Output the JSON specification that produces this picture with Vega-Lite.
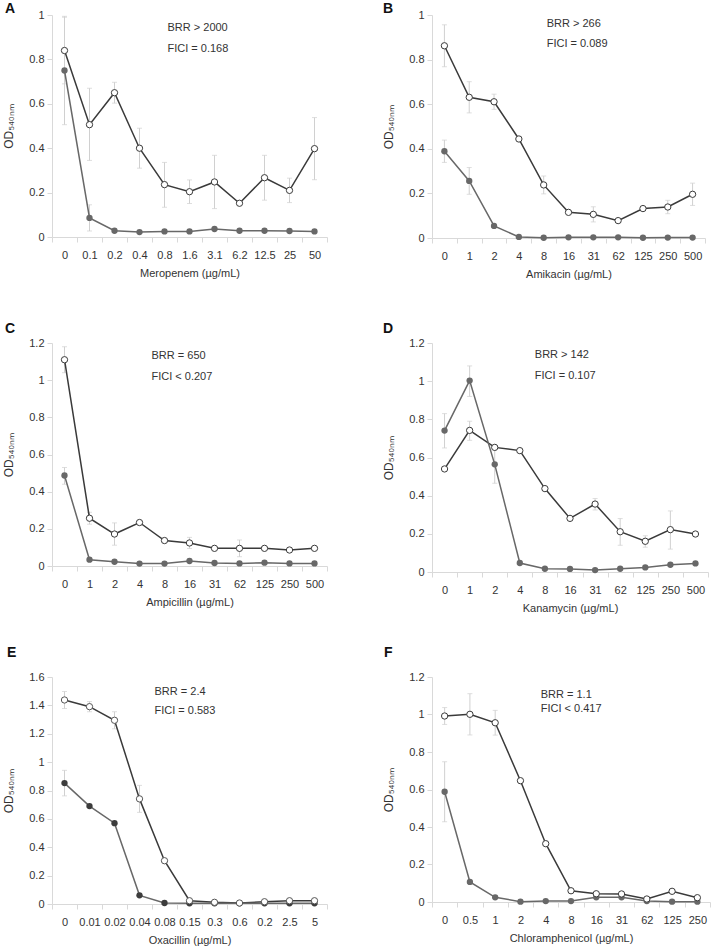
{
  "$schema": "https://vega.github.io/schema/vega-lite/v6.json",
  "padding": {"left": 2, "top": 1, "right": 2, "bottom": 1},
  "background": "white",
  "columns": 2,
  "bounds": "flush",
  "spacing": {"row": 105, "column": 105},
  "config": {
    "view": {"stroke": null},
    "font": "Liberation Sans",
    "axis": {"grid": false, "labelFont": "Liberation Sans", "labelFontSize": 11, "labelColor": "#333333", "titleFont": "Liberation Sans", "titleFontSize": 11, "titleColor": "#333333", "titleFontWeight": "normal", "domainColor": "#d9d9d9", "tickColor": "#d9d9d9", "tickSize": 5},
    "axisX": {"labelAngle": 0, "labelPadding": 7, "titlePadding": 7, "tickBand": "extent", "labelOverlap": false},
    "axisY": {"labelPadding": 3, "titlePadding": 13, "titleFontSize": 12, "format": ".1~f", "labelOverlap": false},
    "title": {"font": "Liberation Sans", "fontSize": 14, "fontWeight": "bold", "color": "#111111", "anchor": "start", "frame": "group", "baseline": "alphabetic", "offset": 0},
    "text": {"font": "Liberation Sans", "fontSize": 11, "color": "#333333", "align": "left", "baseline": "alphabetic"},
    "line": {"strokeWidth": 1.5}
  },
  "datasets": {
    "od": [
      {"p":"A","x":"0","s":"open","v":0.84,"lo":0.69,"hi":0.99},
      {"p":"A","x":"0.1","s":"open","v":0.506,"lo":0.345,"hi":0.67},
      {"p":"A","x":"0.2","s":"open","v":0.65,"lo":0.603,"hi":0.697},
      {"p":"A","x":"0.4","s":"open","v":0.40,"lo":0.31,"hi":0.49},
      {"p":"A","x":"0.8","s":"open","v":0.236,"lo":0.134,"hi":0.336},
      {"p":"A","x":"1.6","s":"open","v":0.204,"lo":0.151,"hi":0.257},
      {"p":"A","x":"3.1","s":"open","v":0.248,"lo":0.128,"hi":0.368},
      {"p":"A","x":"6.2","s":"open","v":0.152},
      {"p":"A","x":"12.5","s":"open","v":0.267,"lo":0.166,"hi":0.368},
      {"p":"A","x":"25","s":"open","v":0.21,"lo":0.155,"hi":0.265},
      {"p":"A","x":"50","s":"open","v":0.398,"lo":0.258,"hi":0.538},
      {"p":"A","x":"0","s":"filled","v":0.75,"lo":0.506,"hi":0.994},
      {"p":"A","x":"0.1","s":"filled","v":0.086,"lo":0.027,"hi":0.145},
      {"p":"A","x":"0.2","s":"filled","v":0.028},
      {"p":"A","x":"0.4","s":"filled","v":0.022},
      {"p":"A","x":"0.8","s":"filled","v":0.025},
      {"p":"A","x":"1.6","s":"filled","v":0.025},
      {"p":"A","x":"3.1","s":"filled","v":0.036},
      {"p":"A","x":"6.2","s":"filled","v":0.028},
      {"p":"A","x":"12.5","s":"filled","v":0.028},
      {"p":"A","x":"25","s":"filled","v":0.027},
      {"p":"A","x":"50","s":"filled","v":0.025},

      {"p":"B","x":"0","s":"open","v":0.862,"lo":0.768,"hi":0.956},
      {"p":"B","x":"1","s":"open","v":0.631,"lo":0.561,"hi":0.701},
      {"p":"B","x":"2","s":"open","v":0.611,"lo":0.577,"hi":0.645},
      {"p":"B","x":"4","s":"open","v":0.444},
      {"p":"B","x":"8","s":"open","v":0.238,"lo":0.198,"hi":0.278},
      {"p":"B","x":"16","s":"open","v":0.115},
      {"p":"B","x":"31","s":"open","v":0.106,"lo":0.072,"hi":0.14},
      {"p":"B","x":"62","s":"open","v":0.078},
      {"p":"B","x":"125","s":"open","v":0.132},
      {"p":"B","x":"250","s":"open","v":0.139,"lo":0.109,"hi":0.169},
      {"p":"B","x":"500","s":"open","v":0.196,"lo":0.146,"hi":0.246},
      {"p":"B","x":"0","s":"filled","v":0.389,"lo":0.339,"hi":0.439},
      {"p":"B","x":"1","s":"filled","v":0.256,"lo":0.196,"hi":0.316},
      {"p":"B","x":"2","s":"filled","v":0.054},
      {"p":"B","x":"4","s":"filled","v":0.005},
      {"p":"B","x":"8","s":"filled","v":0.001},
      {"p":"B","x":"16","s":"filled","v":0.003},
      {"p":"B","x":"31","s":"filled","v":0.003},
      {"p":"B","x":"62","s":"filled","v":0.003},
      {"p":"B","x":"125","s":"filled","v":0.001},
      {"p":"B","x":"250","s":"filled","v":0.002},
      {"p":"B","x":"500","s":"filled","v":0.002},

      {"p":"C","x":"0","s":"open","v":1.11,"lo":1.04,"hi":1.18},
      {"p":"C","x":"1","s":"open","v":0.257,"lo":0.225,"hi":0.289},
      {"p":"C","x":"2","s":"open","v":0.172,"lo":0.112,"hi":0.232},
      {"p":"C","x":"4","s":"open","v":0.234},
      {"p":"C","x":"8","s":"open","v":0.137},
      {"p":"C","x":"16","s":"open","v":0.124,"lo":0.094,"hi":0.154},
      {"p":"C","x":"31","s":"open","v":0.095},
      {"p":"C","x":"62","s":"open","v":0.095,"lo":0.05,"hi":0.14},
      {"p":"C","x":"125","s":"open","v":0.095},
      {"p":"C","x":"250","s":"open","v":0.086},
      {"p":"C","x":"500","s":"open","v":0.095},
      {"p":"C","x":"0","s":"filled","v":0.487,"lo":0.44,"hi":0.53},
      {"p":"C","x":"1","s":"filled","v":0.034},
      {"p":"C","x":"2","s":"filled","v":0.023},
      {"p":"C","x":"4","s":"filled","v":0.013},
      {"p":"C","x":"8","s":"filled","v":0.013},
      {"p":"C","x":"16","s":"filled","v":0.027},
      {"p":"C","x":"31","s":"filled","v":0.016},
      {"p":"C","x":"62","s":"filled","v":0.014},
      {"p":"C","x":"125","s":"filled","v":0.018},
      {"p":"C","x":"250","s":"filled","v":0.014},
      {"p":"C","x":"500","s":"filled","v":0.014},

      {"p":"D","x":"0","s":"open","v":0.54},
      {"p":"D","x":"1","s":"open","v":0.742,"lo":0.69,"hi":0.79},
      {"p":"D","x":"2","s":"open","v":0.653},
      {"p":"D","x":"4","s":"open","v":0.636},
      {"p":"D","x":"8","s":"open","v":0.437},
      {"p":"D","x":"16","s":"open","v":0.281},
      {"p":"D","x":"31","s":"open","v":0.356,"lo":0.325,"hi":0.385},
      {"p":"D","x":"62","s":"open","v":0.211,"lo":0.14,"hi":0.28},
      {"p":"D","x":"125","s":"open","v":0.161,"lo":0.13,"hi":0.19},
      {"p":"D","x":"250","s":"open","v":0.222,"lo":0.12,"hi":0.32},
      {"p":"D","x":"500","s":"open","v":0.199},
      {"p":"D","x":"0","s":"filled","v":0.741,"lo":0.65,"hi":0.83},
      {"p":"D","x":"1","s":"filled","v":1.003,"lo":0.92,"hi":1.08},
      {"p":"D","x":"2","s":"filled","v":0.564,"lo":0.465,"hi":0.66},
      {"p":"D","x":"4","s":"filled","v":0.047},
      {"p":"D","x":"8","s":"filled","v":0.017},
      {"p":"D","x":"16","s":"filled","v":0.016},
      {"p":"D","x":"31","s":"filled","v":0.01},
      {"p":"D","x":"62","s":"filled","v":0.017},
      {"p":"D","x":"125","s":"filled","v":0.024},
      {"p":"D","x":"250","s":"filled","v":0.038},
      {"p":"D","x":"500","s":"filled","v":0.045},

      {"p":"E","x":"0","s":"open","v":1.438,"lo":1.378,"hi":1.498},
      {"p":"E","x":"0.01","s":"open","v":1.391,"lo":1.355,"hi":1.427},
      {"p":"E","x":"0.02","s":"open","v":1.295,"lo":1.235,"hi":1.355},
      {"p":"E","x":"0.04","s":"open","v":0.741,"lo":0.646,"hi":0.836},
      {"p":"E","x":"0.08","s":"open","v":0.305},
      {"p":"E","x":"0.15","s":"open","v":0.023},
      {"p":"E","x":"0.3","s":"open","v":0.012},
      {"p":"E","x":"0.6","s":"open","v":0.007},
      {"p":"E","x":"0.2","s":"open","v":0.016},
      {"p":"E","x":"2.5","s":"open","v":0.023},
      {"p":"E","x":"5","s":"open","v":0.023},
      {"p":"E","x":"0","s":"filled","v":0.852,"lo":0.762,"hi":0.942},
      {"p":"E","x":"0.01","s":"filled","v":0.69},
      {"p":"E","x":"0.02","s":"filled","v":0.57},
      {"p":"E","x":"0.04","s":"filled","v":0.061},
      {"p":"E","x":"0.08","s":"filled","v":0.007},
      {"p":"E","x":"0.15","s":"filled","v":0.005},
      {"p":"E","x":"0.3","s":"filled","v":0.005},
      {"p":"E","x":"0.6","s":"filled","v":0.005},
      {"p":"E","x":"0.2","s":"filled","v":0.005},
      {"p":"E","x":"2.5","s":"filled","v":0.005},
      {"p":"E","x":"5","s":"filled","v":0.005},

      {"p":"F","x":"0","s":"open","v":0.992,"lo":0.947,"hi":1.037},
      {"p":"F","x":"0.5","s":"open","v":1.001,"lo":0.891,"hi":1.111},
      {"p":"F","x":"1","s":"open","v":0.956,"lo":0.89,"hi":1.022},
      {"p":"F","x":"2","s":"open","v":0.647},
      {"p":"F","x":"4","s":"open","v":0.311},
      {"p":"F","x":"8","s":"open","v":0.06},
      {"p":"F","x":"16","s":"open","v":0.044},
      {"p":"F","x":"31","s":"open","v":0.043},
      {"p":"F","x":"62","s":"open","v":0.016},
      {"p":"F","x":"125","s":"open","v":0.057},
      {"p":"F","x":"250","s":"open","v":0.023},
      {"p":"F","x":"0","s":"filled","v":0.588,"lo":0.428,"hi":0.748},
      {"p":"F","x":"0.5","s":"filled","v":0.107},
      {"p":"F","x":"1","s":"filled","v":0.025},
      {"p":"F","x":"2","s":"filled","v":0.002},
      {"p":"F","x":"4","s":"filled","v":0.005},
      {"p":"F","x":"8","s":"filled","v":0.005},
      {"p":"F","x":"16","s":"filled","v":0.025},
      {"p":"F","x":"31","s":"filled","v":0.025},
      {"p":"F","x":"62","s":"filled","v":0.005},
      {"p":"F","x":"125","s":"filled","v":0.002},
      {"p":"F","x":"250","s":"filled","v":0.002}
    ]
  },
  "concat": [
    {
      "width": 275, "height": 222,
      "title": {"text": "A", "dx": -47, "dy": 10.5},
      "data": {"name": "od"},
      "transform": [{"filter": "datum.p === 'A'"}],
      "encoding": {"x": {"field": "x", "type": "nominal", "scale": {"domain": ["0","0.1","0.2","0.4","0.8","1.6","3.1","6.2","12.5","25","50"], "paddingInner": 0, "paddingOuter": 0}, "axis": {"title": "Meropenem (µg/mL)"}}},
      "layer": [
        {"transform": [{"filter": "isValid(datum.lo)"}], "mark": {"type": "errorbar", "color": "#d0d0d0", "ticks": {"size": 5, "color": "#d0d0d0"}, "rule": {"color": "#d0d0d0"}}, "encoding": {"y": {"field": "lo", "type": "quantitative", "scale": {"domain": [0, 1]}, "axis": {"values": [0,0.2,0.4,0.6,0.8,1]}, "title": "OD₅₄₀ₙₘ"}, "y2": {"field": "hi"}}},
        {"mark": {"type": "line"}, "encoding": {"y": {"field": "v", "type": "quantitative", "scale": {"domain": [0, 1]}, "axis": {"values": [0,0.2,0.4,0.6,0.8,1]}, "title": "OD₅₄₀ₙₘ"}, "color": {"field": "s", "type": "nominal", "scale": {"domain": ["open","filled"], "range": ["#3a3a3a","#686868"]}, "legend": null}}},
        {"transform": [{"filter": "datum.s === 'filled'"}], "mark": {"type": "circle", "size": 40, "opacity": 1, "color": "#686868"}, "encoding": {"y": {"field": "v", "type": "quantitative", "scale": {"domain": [0, 1]}, "axis": {"values": [0,0.2,0.4,0.6,0.8,1]}, "title": "OD₅₄₀ₙₘ"}}},
        {"transform": [{"filter": "datum.s === 'open'"}], "mark": {"type": "point", "size": 40, "filled": true, "fill": "white", "stroke": "#3a3a3a", "strokeWidth": 1, "opacity": 1}, "encoding": {"y": {"field": "v", "type": "quantitative", "scale": {"domain": [0, 1]}, "axis": {"values": [0,0.2,0.4,0.6,0.8,1]}, "title": "OD₅₄₀ₙₘ"}}},
        {"data": {"values": [{}]}, "mark": {"type": "text", "text": ["BRR > 2000", "FICI = 0.168"], "lineHeight": 21, "dx": 3}, "encoding": {"x": {"datum": "0.8", "bandPosition": 0.5}, "y": {"datum": 0.928, "type": "quantitative", "scale": {"domain": [0, 1]}, "axis": {"values": [0,0.2,0.4,0.6,0.8,1]}, "title": "OD₅₄₀ₙₘ"}}}
      ]
    },
    {
      "width": 273, "height": 223,
      "title": {"text": "B", "dx": -49, "dy": 10.5},
      "data": {"name": "od"},
      "transform": [{"filter": "datum.p === 'B'"}],
      "encoding": {"x": {"field": "x", "type": "nominal", "scale": {"domain": ["0","1","2","4","8","16","31","62","125","250","500"], "paddingInner": 0, "paddingOuter": 0}, "axis": {"title": "Amikacin (µg/mL)"}}},
      "layer": [
        {"transform": [{"filter": "isValid(datum.lo)"}], "mark": {"type": "errorbar", "color": "#d0d0d0", "ticks": {"size": 5, "color": "#d0d0d0"}, "rule": {"color": "#d0d0d0"}}, "encoding": {"y": {"field": "lo", "type": "quantitative", "scale": {"domain": [0, 1]}, "axis": {"values": [0,0.2,0.4,0.6,0.8,1]}, "title": "OD₅₄₀ₙₘ"}, "y2": {"field": "hi"}}},
        {"mark": {"type": "line"}, "encoding": {"y": {"field": "v", "type": "quantitative", "scale": {"domain": [0, 1]}, "axis": {"values": [0,0.2,0.4,0.6,0.8,1]}, "title": "OD₅₄₀ₙₘ"}, "color": {"field": "s", "type": "nominal", "scale": {"domain": ["open","filled"], "range": ["#3a3a3a","#686868"]}, "legend": null}}},
        {"transform": [{"filter": "datum.s === 'filled'"}], "mark": {"type": "circle", "size": 40, "opacity": 1, "color": "#686868"}, "encoding": {"y": {"field": "v", "type": "quantitative", "scale": {"domain": [0, 1]}, "axis": {"values": [0,0.2,0.4,0.6,0.8,1]}, "title": "OD₅₄₀ₙₘ"}}},
        {"transform": [{"filter": "datum.s === 'open'"}], "mark": {"type": "point", "size": 40, "filled": true, "fill": "white", "stroke": "#3a3a3a", "strokeWidth": 1, "opacity": 1}, "encoding": {"y": {"field": "v", "type": "quantitative", "scale": {"domain": [0, 1]}, "axis": {"values": [0,0.2,0.4,0.6,0.8,1]}, "title": "OD₅₄₀ₙₘ"}}},
        {"data": {"values": [{}]}, "mark": {"type": "text", "text": ["BRR > 266", " FICI = 0.089"], "lineHeight": 20, "dx": 3}, "encoding": {"x": {"datum": "8", "bandPosition": 0.5}, "y": {"datum": 0.946, "type": "quantitative", "scale": {"domain": [0, 1]}, "axis": {"values": [0,0.2,0.4,0.6,0.8,1]}, "title": "OD₅₄₀ₙₘ"}}}
      ]
    },
    {
      "width": 275, "height": 223,
      "title": {"text": "C", "dx": -47, "dy": 3},
      "data": {"name": "od"},
      "transform": [{"filter": "datum.p === 'C'"}],
      "encoding": {"x": {"field": "x", "type": "nominal", "scale": {"domain": ["0","1","2","4","8","16","31","62","125","250","500"], "paddingInner": 0, "paddingOuter": 0}, "axis": {"title": "Ampicillin (µg/mL)"}}},
      "layer": [
        {"transform": [{"filter": "isValid(datum.lo)"}], "mark": {"type": "errorbar", "color": "#d0d0d0", "ticks": {"size": 5, "color": "#d0d0d0"}, "rule": {"color": "#d0d0d0"}}, "encoding": {"y": {"field": "lo", "type": "quantitative", "scale": {"domain": [0, 1.2]}, "axis": {"values": [0,0.2,0.4,0.6,0.8,1,1.2]}, "title": "OD₅₄₀ₙₘ"}, "y2": {"field": "hi"}}},
        {"mark": {"type": "line"}, "encoding": {"y": {"field": "v", "type": "quantitative", "scale": {"domain": [0, 1.2]}, "axis": {"values": [0,0.2,0.4,0.6,0.8,1,1.2]}, "title": "OD₅₄₀ₙₘ"}, "color": {"field": "s", "type": "nominal", "scale": {"domain": ["open","filled"], "range": ["#3a3a3a","#686868"]}, "legend": null}}},
        {"transform": [{"filter": "datum.s === 'filled'"}], "mark": {"type": "circle", "size": 40, "opacity": 1, "color": "#686868"}, "encoding": {"y": {"field": "v", "type": "quantitative", "scale": {"domain": [0, 1.2]}, "axis": {"values": [0,0.2,0.4,0.6,0.8,1,1.2]}, "title": "OD₅₄₀ₙₘ"}}},
        {"transform": [{"filter": "datum.s === 'open'"}], "mark": {"type": "point", "size": 40, "filled": true, "fill": "white", "stroke": "#3a3a3a", "strokeWidth": 1, "opacity": 1}, "encoding": {"y": {"field": "v", "type": "quantitative", "scale": {"domain": [0, 1.2]}, "axis": {"values": [0,0.2,0.4,0.6,0.8,1,1.2]}, "title": "OD₅₄₀ₙₘ"}}},
        {"data": {"values": [{}]}, "mark": {"type": "text", "text": ["BRR = 650", "FICI < 0.207"], "lineHeight": 21, "dx": 12}, "encoding": {"x": {"datum": "4", "bandPosition": 0.5}, "y": {"datum": 1.114, "type": "quantitative", "scale": {"domain": [0, 1.2]}, "axis": {"values": [0,0.2,0.4,0.6,0.8,1,1.2]}, "title": "OD₅₄₀ₙₘ"}}}
      ]
    },
    {
      "width": 276, "height": 229,
      "title": {"text": "D", "dx": -49, "dy": 3},
      "data": {"name": "od"},
      "transform": [{"filter": "datum.p === 'D'"}],
      "encoding": {"x": {"field": "x", "type": "nominal", "scale": {"domain": ["0","1","2","4","8","16","31","62","125","250","500"], "paddingInner": 0, "paddingOuter": 0}, "axis": {"title": "Kanamycin (µg/mL)"}}},
      "layer": [
        {"transform": [{"filter": "isValid(datum.lo)"}], "mark": {"type": "errorbar", "color": "#d0d0d0", "ticks": {"size": 5, "color": "#d0d0d0"}, "rule": {"color": "#d0d0d0"}}, "encoding": {"y": {"field": "lo", "type": "quantitative", "scale": {"domain": [0, 1.2]}, "axis": {"values": [0,0.2,0.4,0.6,0.8,1,1.2]}, "title": "OD₅₄₀ₙₘ"}, "y2": {"field": "hi"}}},
        {"mark": {"type": "line"}, "encoding": {"y": {"field": "v", "type": "quantitative", "scale": {"domain": [0, 1.2]}, "axis": {"values": [0,0.2,0.4,0.6,0.8,1,1.2]}, "title": "OD₅₄₀ₙₘ"}, "color": {"field": "s", "type": "nominal", "scale": {"domain": ["open","filled"], "range": ["#3a3a3a","#686868"]}, "legend": null}}},
        {"transform": [{"filter": "datum.s === 'filled'"}], "mark": {"type": "circle", "size": 40, "opacity": 1, "color": "#686868"}, "encoding": {"y": {"field": "v", "type": "quantitative", "scale": {"domain": [0, 1.2]}, "axis": {"values": [0,0.2,0.4,0.6,0.8,1,1.2]}, "title": "OD₅₄₀ₙₘ"}}},
        {"transform": [{"filter": "datum.s === 'open'"}], "mark": {"type": "point", "size": 40, "filled": true, "fill": "white", "stroke": "#3a3a3a", "strokeWidth": 1, "opacity": 1}, "encoding": {"y": {"field": "v", "type": "quantitative", "scale": {"domain": [0, 1.2]}, "axis": {"values": [0,0.2,0.4,0.6,0.8,1,1.2]}, "title": "OD₅₄₀ₙₘ"}}},
        {"data": {"values": [{}]}, "mark": {"type": "text", "text": ["BRR > 142", "FICI = 0.107"], "lineHeight": 21, "dx": 15}, "encoding": {"x": {"datum": "4", "bandPosition": 0.5}, "y": {"datum": 1.122, "type": "quantitative", "scale": {"domain": [0, 1.2]}, "axis": {"values": [0,0.2,0.4,0.6,0.8,1,1.2]}, "title": "OD₅₄₀ₙₘ"}}}
      ]
    },
    {
      "width": 275, "height": 227,
      "title": {"text": "E", "dx": -45, "dy": -7},
      "data": {"name": "od"},
      "transform": [{"filter": "datum.p === 'E'"}],
      "encoding": {"x": {"field": "x", "type": "nominal", "scale": {"domain": ["0","0.01","0.02","0.04","0.08","0.15","0.3","0.6","0.2","2.5","5"], "paddingInner": 0, "paddingOuter": 0}, "axis": {"title": "Oxacillin (µg/mL)"}}},
      "layer": [
        {"transform": [{"filter": "isValid(datum.lo)"}], "mark": {"type": "errorbar", "color": "#d0d0d0", "ticks": {"size": 5, "color": "#d0d0d0"}, "rule": {"color": "#d0d0d0"}}, "encoding": {"y": {"field": "lo", "type": "quantitative", "scale": {"domain": [0, 1.6]}, "axis": {"values": [0,0.2,0.4,0.6,0.8,1,1.2,1.4,1.6]}, "title": "OD₅₄₀ₙₘ"}, "y2": {"field": "hi"}}},
        {"mark": {"type": "line"}, "encoding": {"y": {"field": "v", "type": "quantitative", "scale": {"domain": [0, 1.6]}, "axis": {"values": [0,0.2,0.4,0.6,0.8,1,1.2,1.4,1.6]}, "title": "OD₅₄₀ₙₘ"}, "color": {"field": "s", "type": "nominal", "scale": {"domain": ["open","filled"], "range": ["#707070","#3c3c3c"]}, "legend": null}}},
        {"transform": [{"filter": "datum.s === 'filled'"}], "mark": {"type": "circle", "size": 40, "opacity": 1, "color": "#3c3c3c"}, "encoding": {"y": {"field": "v", "type": "quantitative", "scale": {"domain": [0, 1.6]}, "axis": {"values": [0,0.2,0.4,0.6,0.8,1,1.2,1.4,1.6]}, "title": "OD₅₄₀ₙₘ"}}},
        {"transform": [{"filter": "datum.s === 'open'"}], "mark": {"type": "point", "size": 40, "filled": true, "fill": "white", "stroke": "#555555", "strokeWidth": 1, "opacity": 1}, "encoding": {"y": {"field": "v", "type": "quantitative", "scale": {"domain": [0, 1.6]}, "axis": {"values": [0,0.2,0.4,0.6,0.8,1,1.2,1.4,1.6]}, "title": "OD₅₄₀ₙₘ"}}},
        {"data": {"values": [{}]}, "mark": {"type": "text", "text": ["BRR = 2.4", "FICI = 0.583"], "lineHeight": 19, "dx": 15}, "encoding": {"x": {"datum": "0.04", "bandPosition": 0.5}, "y": {"datum": 1.473, "type": "quantitative", "scale": {"domain": [0, 1.6]}, "axis": {"values": [0,0.2,0.4,0.6,0.8,1,1.2,1.4,1.6]}, "title": "OD₅₄₀ₙₘ"}}}
      ]
    },
    {
      "width": 278, "height": 225,
      "title": {"text": "F", "dx": -48, "dy": -7},
      "data": {"name": "od"},
      "transform": [{"filter": "datum.p === 'F'"}],
      "encoding": {"x": {"field": "x", "type": "nominal", "scale": {"domain": ["0","0.5","1","2","4","8","16","31","62","125","250"], "paddingInner": 0, "paddingOuter": 0}, "axis": {"title": "Chloramphenicol (µg/mL)"}}},
      "layer": [
        {"transform": [{"filter": "isValid(datum.lo)"}], "mark": {"type": "errorbar", "color": "#d0d0d0", "ticks": {"size": 5, "color": "#d0d0d0"}, "rule": {"color": "#d0d0d0"}}, "encoding": {"y": {"field": "lo", "type": "quantitative", "scale": {"domain": [0, 1.2]}, "axis": {"values": [0,0.2,0.4,0.6,0.8,1,1.2]}, "title": "OD₅₄₀ₙₘ"}, "y2": {"field": "hi"}}},
        {"mark": {"type": "line"}, "encoding": {"y": {"field": "v", "type": "quantitative", "scale": {"domain": [0, 1.2]}, "axis": {"values": [0,0.2,0.4,0.6,0.8,1,1.2]}, "title": "OD₅₄₀ₙₘ"}, "color": {"field": "s", "type": "nominal", "scale": {"domain": ["open","filled"], "range": ["#3a3a3a","#686868"]}, "legend": null}}},
        {"transform": [{"filter": "datum.s === 'filled'"}], "mark": {"type": "circle", "size": 40, "opacity": 1, "color": "#686868"}, "encoding": {"y": {"field": "v", "type": "quantitative", "scale": {"domain": [0, 1.2]}, "axis": {"values": [0,0.2,0.4,0.6,0.8,1,1.2]}, "title": "OD₅₄₀ₙₘ"}}},
        {"transform": [{"filter": "datum.s === 'open'"}], "mark": {"type": "point", "size": 40, "filled": true, "fill": "white", "stroke": "#3a3a3a", "strokeWidth": 1, "opacity": 1}, "encoding": {"y": {"field": "v", "type": "quantitative", "scale": {"domain": [0, 1.2]}, "axis": {"values": [0,0.2,0.4,0.6,0.8,1,1.2]}, "title": "OD₅₄₀ₙₘ"}}},
        {"data": {"values": [{}]}, "mark": {"type": "text", "text": ["BRR = 1.1", "FICI < 0.417"], "lineHeight": 14, "dx": -5}, "encoding": {"x": {"datum": "4", "bandPosition": 0.5}, "y": {"datum": 1.088, "type": "quantitative", "scale": {"domain": [0, 1.2]}, "axis": {"values": [0,0.2,0.4,0.6,0.8,1,1.2]}, "title": "OD₅₄₀ₙₘ"}}}
      ]
    }
  ]
}
